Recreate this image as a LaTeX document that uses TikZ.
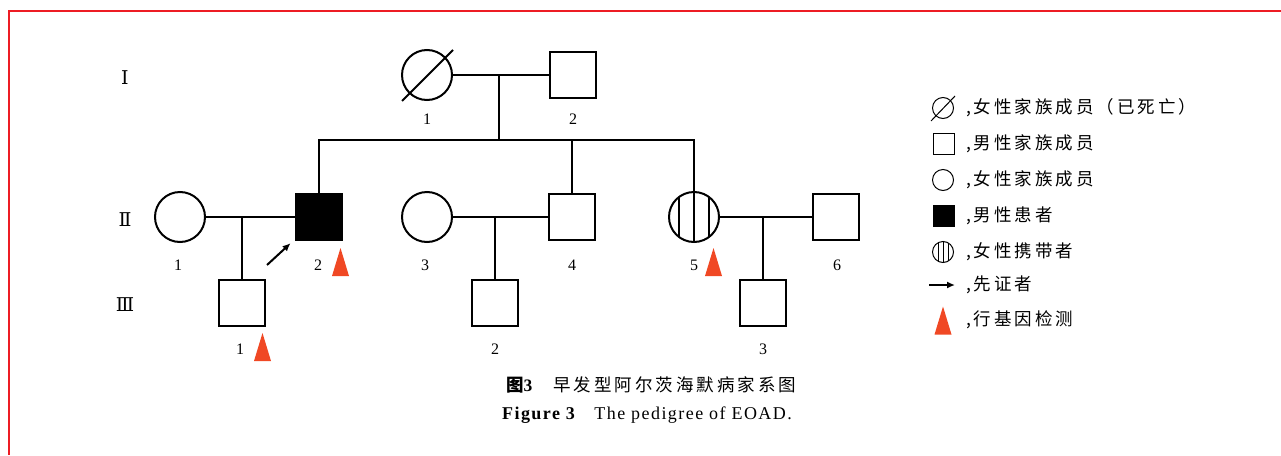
\documentclass[tikz,border=0pt]{standalone}
\usepackage{fontspec}
\setmainfont{Liberation Serif}
\newfontfamily\cjk[LetterSpace=17]{Noto Sans CJK SC}
\newfontfamily\romfont{DejaVu Serif}
\usetikzlibrary{positioning, arrows.meta}
\definecolor{framered}{RGB}{237,28,36}
\definecolor{testred}{RGB}{240,72,36}
\newcommand{\gtest}[1]{\fill [testred] ([shift={(-8.5,14)}]#1) -- ([shift={(8.5,14)}]#1) -- ([shift={(0,-14)}]#1) -- cycle;}

\begin{document}
\begin{tikzpicture}[x = 1pt, y = -1pt, line width = 2pt, male/.style={rectangle, draw, minimum size = 46pt, inner sep = 0}, female/.style={circle, draw, minimum size = 50pt, inner sep = 0}, num/.style={inner sep = 0, font = \fontsize{16}{16}\selectfont}, gen/.style={inner sep = 0, font = \romfont\fontsize{19}{19}\selectfont}, legmale/.style={rectangle, draw, line width = 1pt, minimum size = 21pt, inner sep = 0}, legfemale/.style={circle, draw, line width = 1pt, minimum size = 21pt, inner sep = 0}, legtext/.style={anchor = west, inner sep = 0, font = \cjk\fontsize{17.5}{17.5}\selectfont}, proband/.style={-{Latex[length = 8pt, width = 7pt]}}]
  \useasboundingbox (0,0) rectangle (1281,455);
  \draw [framered] (8.5,455) -- (8.5,11) -- (1281,11);

  % generations
  \node [gen] (g1) at (125,78) {Ⅰ};
  \node [gen] (g2) at (125,220) {Ⅱ};
  \node [gen] (g3) at (125,305) {Ⅲ};

  % nodes
  \node [female] (I1) at (427,75) {};
  \node [male] (I2) at (573,75) {};

  \node [female] (II1) at (180,217) {};
  \node [male, fill] (II2) at (319,217) {};
  \node [female] (II3) at (427,217) {};
  \node [male] (II4) at (572,217) {};
  \node [female] (II5) at (694,217) {};
  \node [male] (II6) at (836,217) {};

  \node [male] (III1) at (242,303) {};
  \node [male] (III2) at (495,303) {};
  \node [male] (III3) at (763,303) {};

  \node [num] (nI1) at (I1 |- 0,119) {1};
  \node [num] (nI2) at (I2 |- 0,119) {2};
  \node [num] (nII1) at (178,265) {1};
  \node [num] (nII2) at (318,265) {2};
  \node [num] (nII3) at (425,265) {3};
  \node [num] (nII4) at (572,265) {4};
  \node [num] (nII5) at (694,265) {5};
  \node [num] (nII6) at (837,265) {6};
  \node [num] (nIII1) at (240,349) {1};
  \node [num] (nIII2) at (495,349) {2};
  \node [num] (nIII3) at (763,349) {3};

  % symbols
  \draw ([shift={(-25,26)}]I1.center) -- ([shift={(26,-25)}]I1.center);
  \draw (II5.north) -- (II5.south);
  \draw ([shift={(-15,-20)}]II5.center) -- ([shift={(-15,20)}]II5.center);
  \draw ([shift={(15,-20)}]II5.center) -- ([shift={(15,20)}]II5.center);

  % edges
  \coordinate (m1) at (499,75);
  \coordinate (sib) at (499,140);
  \coordinate (m2) at (III1 |- II1);
  \coordinate (m3) at (III2 |- II3);
  \coordinate (m4) at (III3 |- II5);
  \draw (I1) -- (I2);
  \draw (m1) -- (sib);
  \draw (II2) |- (sib) -| (II5);
  \draw (sib) -| (II4);
  \draw (II1) -- (II2);
  \draw (m2) -- (III1);
  \draw (II3) -- (II4);
  \draw (m3) -- (III2);
  \draw (II5) -- (II6);
  \draw (m4) -- (III3);

  % proband and tests
  \coordinate (pro) at (267,265);
  \draw [proband, shorten > = 6pt] (pro) -- (II2);
  \coordinate (tII2) at (340.5,262);
  \coordinate (tIII1) at (262.5,347);
  \coordinate (tII5) at (713.5,262);
  \gtest{tII2}
  \gtest{tIII1}
  \gtest{tII5}

  % legend
  \node [legfemale] (lg1) at (943,108) {};
  \draw [line width = 1pt] ([shift={(-12,13)}]lg1.center) -- ([shift={(12,-12)}]lg1.center);
  \node [legmale] (lg2) at (944,144) {};
  \node [legfemale] (lg3) at (943,180) {};
  \node [legmale, fill] (lg4) at (944,216) {};
  \node [legfemale] (lg5) at (943,252) {};
  \draw [line width = 1pt] (lg5.north) -- (lg5.south);
  \draw [line width = 1pt] ([shift={(-5,-9.2)}]lg5.center) -- ([shift={(-5,9.2)}]lg5.center);
  \draw [line width = 1pt] ([shift={(5,-9.2)}]lg5.center) -- ([shift={(5,9.2)}]lg5.center);
  \coordinate (la1) at (929,285);
  \coordinate (la2) at (955,285);
  \draw [proband] (la1) -- (la2);
  \coordinate (lg7) at (943,320.5);
  \gtest{lg7}

  \node [legtext] (lt1) at (965,108) {,女性家族成员（已死亡）};
  \node [legtext] (lt2) at (965,144) {,男性家族成员};
  \node [legtext] (lt3) at (965,180) {,女性家族成员};
  \node [legtext] (lt4) at (965,216) {,男性患者};
  \node [legtext] (lt5) at (965,252) {,女性携带者};
  \node [legtext] (lt6) at (965,285) {,先证者};
  \node [legtext] (lt7) at (965,320) {,行基因检测};

  % caption
  \node [inner sep = 0, font = \cjk\fontsize{17.5}{17.5}\selectfont] (cap) at (651,385) {\textbf{图{\rmfamily 3}}\hspace{1.2em}早发型阿尔茨海默病家系图};
  \node [inner sep = 0, font = \fontsize{18}{18}\selectfont\addfontfeatures{LetterSpace=8}] (capen) at (647,415) {\textbf{Figure 3}\hspace{1em}The pedigree of EOAD.};
\end{tikzpicture}
\end{document}
